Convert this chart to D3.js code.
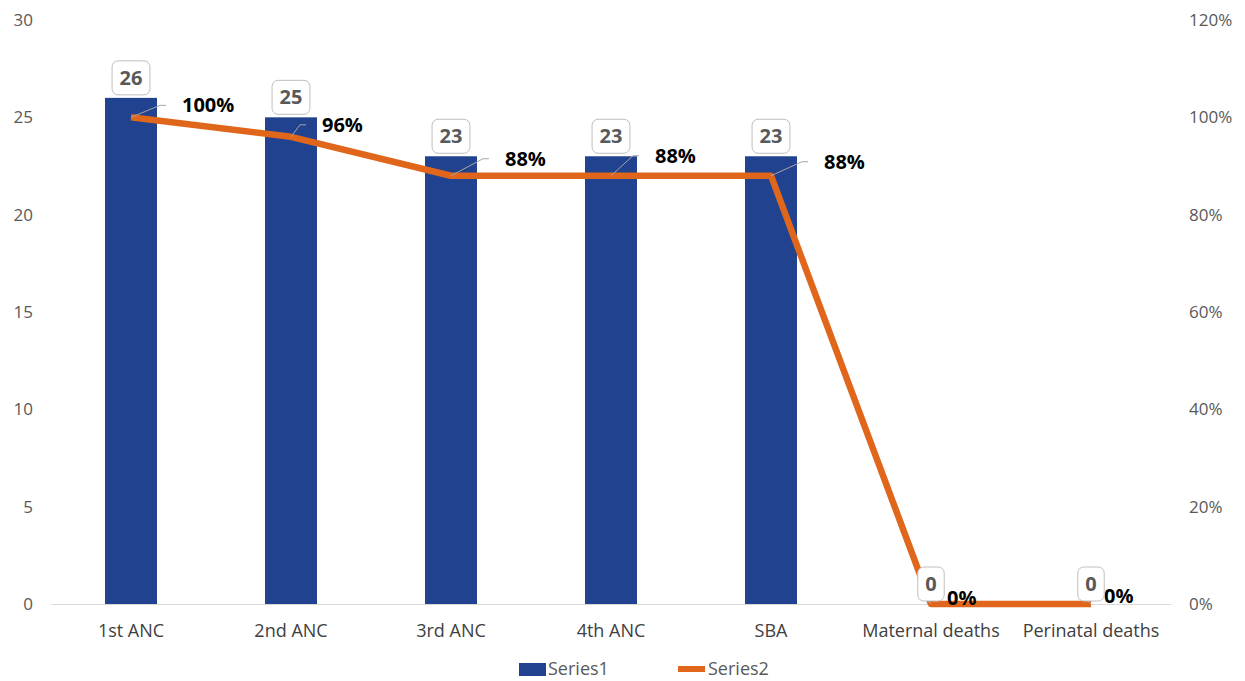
<!DOCTYPE html>
<html>
<head>
<meta charset="utf-8">
<script src="https://cdn.jsdelivr.net/npm/d3@7"></script>
<style>
  html, body { margin: 0; padding: 0; background: #fff; }
  svg { display: block; }
  svg text { font-family: "Open Sans", "Noto Sans", sans-serif; }
</style>
</head>
<body>
<svg id="chart" width="1245" height="681"></svg>
<script>
// Categories and series
const categories = ["1st ANC", "2nd ANC", "3rd ANC", "4th ANC", "SBA", "Maternal deaths", "Perinatal deaths"];
const series1 = [26, 25, 23, 23, 23, 0, 0];
const series2 = [1.00, 0.96, 0.88, 0.88, 0.88, 0, 0];
const leftTicks = [0, 5, 10, 15, 20, 25, 30];
const rightTicks = [0, 0.2, 0.4, 0.6, 0.8, 1.0, 1.2];
const seriesNames = ["Series1", "Series2"];

// Where each percentage label sits relative to its point (dx to text start, dy to text middle)
const pctLabelNudge = [[51, -12], [31, -12], [54, -17], [44, -20], [53, -14], [16, -6], [13, -8]];

const BAR = "#21438f", LINE = "#e0661c", GRID = "#d9d9d9", AXIS_TEXT = "#595959";
const FONT = '"Open Sans", "Noto Sans", sans-serif';

const svg = d3.select("#chart");
const plot = { left: 51, right: 1171, top: 20, bottom: 604 };

const x = d3.scaleBand().domain(categories).range([plot.left, plot.right]).paddingInner(0).paddingOuter(0);
const yL = d3.scaleLinear().domain([0, 30]).range([plot.bottom, plot.top]);
const yR = d3.scaleLinear().domain([0, 1.2]).range([plot.bottom, plot.top]);
const barW = 52;
const cx = c => x(c) + x.bandwidth() / 2;

// Left axis
const leftAxis = svg.append("g").attr("transform", `translate(${plot.left - 18},0)`)
  .call(d3.axisLeft(yL).tickValues(leftTicks).tickSize(0).tickPadding(0));
leftAxis.attr("font-family", FONT);
leftAxis.select(".domain").remove();
leftAxis.selectAll("text").attr("fill", AXIS_TEXT).style("font-size", "17px");

// Right axis
const rightAxis = svg.append("g").attr("transform", `translate(${plot.right + 18},0)`)
  .call(d3.axisRight(yR).tickValues(rightTicks).tickFormat(d3.format(".0%")).tickSize(0).tickPadding(0));
rightAxis.attr("font-family", FONT);
rightAxis.select(".domain").remove();
rightAxis.selectAll("text").attr("fill", AXIS_TEXT).style("font-size", "17px");

// Category axis
const bottomAxis = svg.append("g").attr("transform", `translate(0,${plot.bottom})`)
  .call(d3.axisBottom(x).tickSize(0).tickPadding(20));
bottomAxis.attr("font-family", FONT);
bottomAxis.select(".domain").attr("stroke", GRID).attr("stroke-width", 1);
bottomAxis.selectAll("text").attr("fill", "#404040").style("font-size", "18px");

// Bars
svg.append("g").selectAll("rect").data(categories).join("rect")
  .attr("x", d => cx(d) - barW / 2)
  .attr("width", barW)
  .attr("y", (d, i) => yL(series1[i]))
  .attr("height", (d, i) => yL(0) - yL(series1[i]))
  .attr("fill", BAR);

// Line series
const lineGen = d3.line().x((d, i) => cx(categories[i])).y(d => yR(d));
svg.append("path").datum(series2)
  .attr("d", lineGen)
  .attr("fill", "none")
  .attr("stroke", LINE)
  .attr("stroke-width", 6.5)
  .attr("stroke-linejoin", "round");

// Leader lines + percentage labels
const pctG = svg.append("g");
series2.forEach((v, i) => {
  const px = cx(categories[i]), py = yR(v);
  const [dx, dy] = pctLabelNudge[i];
  const ex = px + dx - 16, ey = py + dy;
  pctG.append("polyline")
    .attr("points", `${px},${py} ${ex - 6},${ey} ${ex},${ey}`)
    .attr("fill", "none").attr("stroke", "#a6a6a6").attr("stroke-width", 1);
  pctG.append("text")
    .attr("x", px + dx).attr("y", py + dy)
    .attr("dy", "0.35em")
    .attr("fill", "#000").style("font-size", "20px").style("font-weight", "bold")
    .text(d3.format(".0%")(v));
});

// Value boxes above bars
const valG = svg.append("g");
series1.forEach((v, i) => {
  const bx = cx(categories[i]);
  const bottom = yL(v) - 3;
  const t = valG.append("text")
    .attr("x", bx).attr("y", bottom - 17)
    .attr("text-anchor", "middle").attr("dy", "0.35em")
    .attr("fill", AXIS_TEXT).style("font-size", "20px").style("font-weight", "bold")
    .text(v);
  const w = t.node().getComputedTextLength() + 15;
  valG.insert("rect", "text")
    .attr("x", bx - w / 2).attr("y", bottom - 34)
    .attr("width", w).attr("height", 34)
    .attr("rx", 6).attr("ry", 6)
    .attr("fill", "#fff").attr("stroke", "#bfbfbf").attr("stroke-width", 1);
});

// Legend
const legend = svg.append("g").attr("transform", "translate(0,669)");
legend.append("rect").attr("x", 519).attr("y", -6).attr("width", 27).attr("height", 13).attr("fill", BAR);
legend.append("text").attr("x", 548).attr("y", 0).attr("dy", "0.35em")
  .attr("fill", AXIS_TEXT).style("font-size", "18px").text(seriesNames[0]);
legend.append("line").attr("x1", 678).attr("x2", 705).attr("y1", 0).attr("y2", 0)
  .attr("stroke", LINE).attr("stroke-width", 6);
legend.append("text").attr("x", 708).attr("y", 0).attr("dy", "0.35em")
  .attr("fill", AXIS_TEXT).style("font-size", "18px").text(seriesNames[1]);
</script>
</body>
</html>
